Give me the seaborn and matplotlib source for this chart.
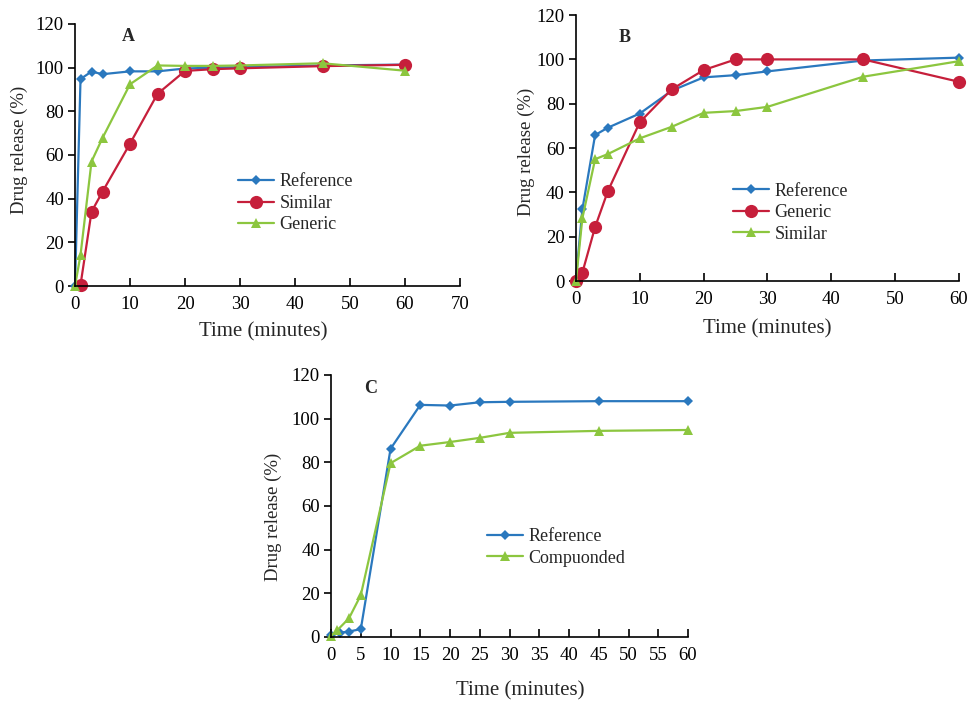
import numpy as np
import pandas as pd
import seaborn as sns
import matplotlib.pyplot as plt

# Panel A data
a_time_ref = [0, 1, 3, 5, 10, 15, 20, 25, 30, 45, 60]
a_reference = [0, 94.8, 98.2, 97.0, 98.3, 98.3, 99.6, 100.0, 100.2, 101.0, 101.4]
a_time_sim = [1, 3, 5, 10, 15, 20, 25, 30, 45, 60]
a_similar = [0.5, 34.0, 43.2, 65.2, 88.0, 98.5, 99.3, 99.7, 100.7, 101.3]
a_time_gen = [0, 1, 3, 5, 10, 15, 20, 25, 30, 45, 60]
a_generic = [0, 14.2, 57.0, 67.8, 92.4, 101.0, 100.8, 100.8, 101.0, 102.0, 98.6]

# Panel B data
b_time = [0, 1, 3, 5, 10, 15, 20, 25, 30, 45, 60]
b_reference = [1.0, 32.3, 65.9, 69.2, 75.6, 85.9, 91.9, 92.9, 94.6, 99.5, 100.8]
b_generic = [0, 3.8, 24.4, 40.6, 71.7, 86.5, 95.2, 100.0, 100.0, 100.0, 89.9]
b_similar = [0, 28.3, 55.0, 57.3, 64.4, 69.6, 75.9, 76.7, 78.6, 92.2, 99.2]

# Panel C data
c_time_ref = [0, 1.5, 3, 5, 10, 15, 20, 25, 30, 45, 60]
c_reference = [0.8, 2.0, 2.5, 3.6, 86.2, 106.3, 106.0, 107.5, 107.7, 108.0, 108.0]
c_time_comp = [0, 1, 3, 5, 10, 15, 20, 25, 30, 45, 60]
c_compounded = [0.6, 3.0, 8.5, 19.2, 79.6, 87.6, 89.3, 91.2, 93.5, 94.4, 94.8]

BLUE = '#2a78be'
RED = '#c61f3b'
GREEN = '#8cc63f'

sns.set_style('ticks')
plt.rcParams['font.family'] = ['Liberation Serif', 'DejaVu Serif']

fig = plt.figure(figsize=(9.68, 7.01), dpi=100)
ax_a = fig.add_axes([0.0775, 0.592, 0.3977, 0.3738])
ax_b = fig.add_axes([0.595, 0.599, 0.3957, 0.3795])
ax_c = fig.add_axes([0.342, 0.0913, 0.3688, 0.3738])

diamond = dict(marker='D', markersize=5.5, color=BLUE)
circle = dict(marker='o', markersize=9.5, color=RED)
triangle = dict(marker='^', markersize=7, color=GREEN)


def draw(ax, x, y, label, style):
    sns.lineplot(x=x, y=y, ax=ax, label=label, linewidth=1.6,
                 markeredgewidth=0, clip_on=False, sort=False, **style)


draw(ax_a, a_time_ref, a_reference, 'Reference', diamond)
draw(ax_a, a_time_sim, a_similar, 'Similar', circle)
draw(ax_a, a_time_gen, a_generic, 'Generic', triangle)

draw(ax_b, b_time, b_reference, 'Reference', diamond)
draw(ax_b, b_time, b_generic, 'Generic', circle)
draw(ax_b, b_time, b_similar, 'Similar', triangle)

draw(ax_c, c_time_ref, c_reference, 'Reference', diamond)
draw(ax_c, c_time_comp, c_compounded, 'Compuonded', triangle)

ax_a.set_xlim(0, 70)
ax_a.set_xticks(range(0, 71, 10))
ax_b.set_xlim(0, 60)
ax_b.set_xticks(range(0, 61, 10))
ax_c.set_xlim(0, 60)
ax_c.set_xticks(range(0, 61, 5))

panels = [
    (ax_a, 'A', (0.138, 0.954), (0.423, 0.43), (0.49, -0.14), (-0.122, 0.52)),
    (ax_b, 'B', (0.128, 0.917), (0.41, 0.37), (0.50, -0.142), (-0.107, 0.485)),
    (ax_c, 'C', (0.112, 0.95), (0.437, 0.415), (0.53, -0.17), (-0.137, 0.458)),
]

for ax, letter, lpos, legpos, xlpos, ylpos in panels:
    ax.set_ylim(0, 120)
    ax.set_yticks(range(0, 121, 20))
    sns.despine(ax=ax)
    for side in ['left', 'bottom']:
        ax.spines[side].set_linewidth(1.2)
        ax.spines[side].set_color('black')
    ax.tick_params(axis='y', direction='out', length=5, width=1.2, pad=3,
                   labelsize=13.5, colors='black')
    ax.tick_params(axis='x', direction='in', length=6, width=1.2, pad=7,
                   labelsize=13.5, colors='black')
    ax.set_xlabel('Time (minutes)', fontsize=15)
    ax.set_ylabel('Drug release (%)', fontsize=13.5)
    ax.xaxis.set_label_coords(*xlpos)
    ax.yaxis.set_label_coords(*ylpos)
    ax.text(lpos[0], lpos[1], letter, transform=ax.transAxes, fontsize=13,
            fontweight='bold', ha='center', va='center')
    ax.legend(loc='upper left', bbox_to_anchor=legpos, frameon=False,
              fontsize=13, handlelength=2.0, handletextpad=0.3,
              labelspacing=0.25, borderpad=0, borderaxespad=0)

fig.savefig('out.png', dpi=100)
